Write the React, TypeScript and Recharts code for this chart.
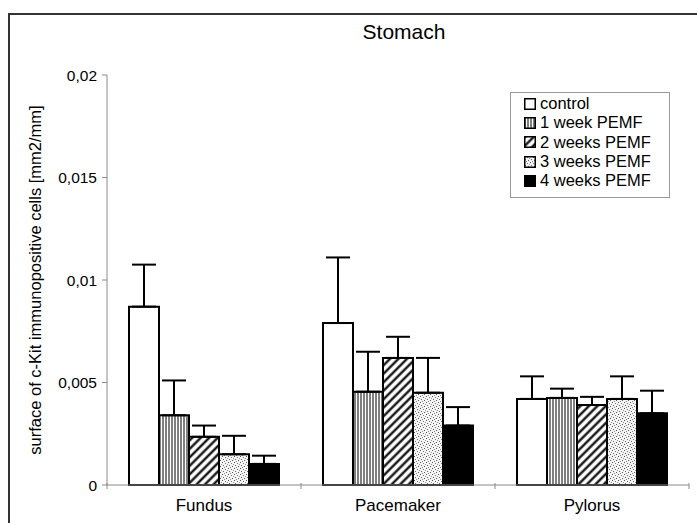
import React from 'react';
import {
  Bar,
  BarChart,
  ErrorBar,
  Legend,
  XAxis,
  YAxis,
} from 'recharts';

const categories = ['Fundus', 'Pacemaker', 'Pylorus'];

// bar heights
const control = [0.0087, 0.0079, 0.0042];
const week1 = [0.0034, 0.00455, 0.00425];
const week2 = [0.00235, 0.0062, 0.0039];
const week3 = [0.0015, 0.0045, 0.0042];
const week4 = [0.00103, 0.0029, 0.0035];

// upper error (SD), only drawn upwards
const controlErr = [0.00205, 0.0032, 0.0011];
const week1Err = [0.0017, 0.00195, 0.00045];
const week2Err = [0.00055, 0.00103, 0.0004];
const week3Err = [0.0009, 0.0017, 0.0011];
const week4Err = [0.0004, 0.0009, 0.0011];

const yTicks = [0, 0.005, 0.01, 0.015, 0.02];

const series = [
  { key: 'control', name: 'control', values: control, err: controlErr, fill: '#fff' },
  { key: 'week1', name: '1 week PEMF', values: week1, err: week1Err, fill: 'url(#vlines)' },
  { key: 'week2', name: '2 weeks PEMF', values: week2, err: week2Err, fill: 'url(#diag)' },
  { key: 'week3', name: '3 weeks PEMF', values: week3, err: week3Err, fill: 'url(#dots)' },
  { key: 'week4', name: '4 weeks PEMF', values: week4, err: week4Err, fill: '#000' },
];

const data = categories.map((name, i) => {
  const row: Record<string, unknown> = { name };
  series.forEach((s) => {
    row[s.key] = s.values[i];
    row[`${s.key}Err`] = [0, s.err[i]];
  });
  return row;
});

const FONT = '"Liberation Sans", Arial, sans-serif';
const AXIS = '#8a8a8a';

const fmtTick = (v: number) => String(v).replace('.', ',');

function Patterns() {
  return (
    <svg width={0} height={0} style={{ position: 'absolute' }}>
      <defs>
        <pattern id="vlines" width={3} height={3} patternUnits="userSpaceOnUse">
          <rect width={3} height={3} fill="#fff" />
          <line x1={1} y1={0} x2={1} y2={3} stroke="#000" strokeWidth={1} />
        </pattern>
        <pattern
          id="diag"
          width={6}
          height={6}
          patternUnits="userSpaceOnUse"
          patternTransform="rotate(45)"
        >
          <rect width={6} height={6} fill="#fff" />
          <line x1={1.5} y1={0} x2={1.5} y2={6} stroke="#000" strokeWidth={2.2} />
        </pattern>
        <pattern id="dots" width={6} height={6} patternUnits="userSpaceOnUse">
          <rect width={6} height={6} fill="#f4f4f4" />
          <rect x={0} y={0} width={1} height={1} fill="#555" />
          <rect x={3} y={1} width={1} height={1} fill="#777" />
          <rect x={1} y={3} width={1} height={1} fill="#666" />
          <rect x={4} y={4} width={1} height={1} fill="#555" />
          <rect x={5} y={2} width={1} height={1} fill="#999" />
          <rect x={2} y={5} width={1} height={1} fill="#888" />
        </pattern>
      </defs>
    </svg>
  );
}

function LegendBox(props: any) {
  const payload = [...(props.payload ?? [])].sort(
    (a: any, b: any) =>
      series.findIndex((s) => s.key === a.dataKey) - series.findIndex((s) => s.key === b.dataKey),
  );
  return (
    <div style={{ paddingTop: 1, fontFamily: FONT, fontSize: 16.5, color: '#000' }}>
      {payload.map((entry: any) => {
        const s = series.find((x) => x.key === entry.dataKey);
        return (
          <div
            key={entry.value}
            style={{ display: 'flex', alignItems: 'center', height: 19.3, paddingLeft: 13 }}
          >
            <svg width={12} height={12} style={{ marginRight: 4 }}>
              <rect
                x={0.75}
                y={0.75}
                width={10.5}
                height={10.5}
                fill={s ? s.fill : entry.color}
                stroke="#000"
                strokeWidth={1.5}
              />
            </svg>
            <span>{entry.value}</span>
          </div>
        );
      })}
    </div>
  );
}

function YLabel(props: any) {
  const { viewBox } = props;
  const cx = viewBox.x + 35;
  const cy = viewBox.y + viewBox.height / 2;
  return (
    <text
      x={cx}
      y={cy}
      transform={`rotate(-90, ${cx}, ${cy})`}
      textAnchor="middle"
      dominantBaseline="central"
      fontFamily={FONT}
      fontSize={16.5}
      fill="#000"
    >
      surface of c-Kit immunopositive cells [mm2/mm]
    </text>
  );
}

// category label in the middle of the band, small ticks on the band edges
function CategoryTick(props: any) {
  const { x, y, payload, index, visibleTicksCount } = props;
  const half = payload?.offset ?? 0;
  const last = index === (visibleTicksCount ?? categories.length) - 1;
  return (
    <g>
      <line x1={x - half} y1={y - 2} x2={x - half} y2={y + 4} stroke={AXIS} />
      {last && <line x1={x + half} y1={y - 2} x2={x + half} y2={y + 4} stroke={AXIS} />}
      <text
        x={x}
        y={y + 20}
        textAnchor="middle"
        dominantBaseline="central"
        fontFamily={FONT}
        fontSize={17}
        fill="#000"
      >
        {payload.value}
      </text>
    </g>
  );
}

export default function App() {
  return (
    <div
      style={{
        position: 'absolute',
        left: 0,
        top: 0,
        width: 697,
        height: 523,
        background: '#fff',
        overflow: 'hidden',
      }}
    >
      <Patterns />
      <div
        style={{
          position: 'absolute',
          left: 8,
          top: 13,
          width: 700,
          height: 520,
          borderLeft: '2px solid #333',
          borderTop: '2px solid #333',
        }}
      />
      <div
        style={{
          position: 'absolute',
          left: 304,
          top: 20,
          width: 200,
          textAlign: 'center',
          fontFamily: FONT,
          fontSize: 21,
          color: '#000',
        }}
      >
        Stomach
      </div>
      <div style={{ position: 'absolute', left: 0, top: 0 }}>
        <BarChart
          width={697}
          height={523}
          data={data}
          margin={{ top: 75, right: 8, bottom: 8, left: 0 }}
          barGap={0}
          barSize={30}
        >
          <XAxis
            dataKey="name"
            height={30}
            interval={0}
            axisLine={{ stroke: AXIS }}
            tickLine={false}
            tickSize={0}
            tickMargin={0}
            tick={<CategoryTick />}
          />
          <YAxis
            width={107}
            domain={[0, 0.02]}
            ticks={yTicks}
            tickFormatter={fmtTick}
            axisLine={{ stroke: AXIS }}
            tickLine={{ stroke: AXIS }}
            tickSize={5}
            tickMargin={5}
            tick={{ fill: '#000', fontSize: 15.5, fontFamily: FONT }}
            label={(p: any) => <YLabel {...p} />}
          />
          <Legend
            layout="vertical"
            align="center"
            verticalAlign="middle"
            content={<LegendBox />}
            wrapperStyle={{
              left: 510,
              top: 92,
              width: 160,
              height: 106,
              border: '1px solid #999',
              background: '#fff',
              boxSizing: 'border-box',
            }}
          />
          {series.map((s) => (
            <Bar
              key={s.key}
              dataKey={s.key}
              name={s.name}
              fill={s.fill}
              stroke="#000"
              strokeWidth={2}
              isAnimationActive={false}
            >
              <ErrorBar
                dataKey={`${s.key}Err`}
                direction="y"
                width={12}
                stroke="#000"
                strokeWidth={2}
                isAnimationActive={false}
              />
            </Bar>
          ))}
        </BarChart>
      </div>
    </div>
  );
}
